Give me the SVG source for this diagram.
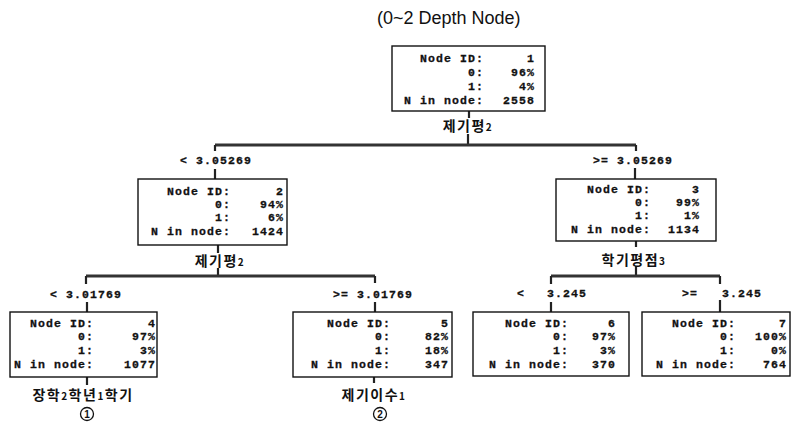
<svg xmlns="http://www.w3.org/2000/svg" width="794" height="426" viewBox="0 0 794 426">
<style>
.box{fill:#fff;stroke:#111;stroke-width:1.4}
.t{font-family:"Liberation Mono","DejaVu Sans Mono",monospace;font-weight:bold;font-size:11.5px;letter-spacing:1.1px;fill:#111;stroke:#111;stroke-width:0.3}
.e{text-anchor:end}
.k{font-family:"Noto Sans CJK KR","Noto Sans",sans-serif;font-weight:bold;font-size:14px;fill:#111;text-anchor:middle;letter-spacing:1.5px}
.k tspan.d{font-size:10px}
.c{stroke:#222;stroke-width:2.2;fill:none}
.h{stroke:#333;stroke-width:3;fill:none}
.title{font-family:"Liberation Sans",Arial,sans-serif;font-size:18px;fill:#111}
.ring{fill:none;stroke:#111;stroke-width:1.3}
.cd{font-family:"Liberation Sans",Arial,sans-serif;font-weight:bold;font-size:10px;fill:#111;text-anchor:middle}
</style>
<rect width="794" height="426" fill="#fff"/>
<text class="title" x="377" y="24">(0~2 Depth Node)</text>

<g id="connectors">
<path class="c" d="M469 111V118M468 134V145"/>
<path class="h" d="M215 145H636"/>
<path class="c" d="M215 145V151M636 145V151M215 169V179M635 168V179"/>
<path class="c" d="M218 245V253M218 268V276"/>
<path class="h" d="M86 276H375"/>
<path class="c" d="M86 276V284M375 276V283M87 302V312M375 302V312"/>
<path class="c" d="M636 241V247M636 266V276"/>
<path class="h" d="M551 276H720"/>
<path class="c" d="M551 276V284M720 276V284M551 302V312M720 300V312"/>
<path class="c" d="M87 377V385M374 377V383"/>
</g>

<g id="node1">
<rect class="box" x="392" y="46" width="153" height="65"/>
<text class="t e" x="484" y="62">Node ID:</text><text class="t e" x="535" y="62">1</text>
<text class="t e" x="484" y="76">0:</text><text class="t e" x="535" y="76">96%</text>
<text class="t e" x="484" y="90">1:</text><text class="t e" x="535" y="90">4%</text>
<text class="t e" x="484" y="104">N in node:</text><text class="t e" x="535" y="104">2558</text>
<text class="k" x="468" y="131">제기평<tspan class="d">2</tspan></text>
</g>

<g id="edge-labels-1">
<text class="t" x="180" y="164">&lt; 3.05269</text>
<text class="t" x="593" y="164">&gt;= 3.05269</text>
</g>

<g id="node2">
<rect class="box" x="138" y="179" width="149" height="66"/>
<text class="t e" x="231" y="195">Node ID:</text><text class="t e" x="284" y="195">2</text>
<text class="t e" x="231" y="208">0:</text><text class="t e" x="284" y="208">94%</text>
<text class="t e" x="231" y="221">1:</text><text class="t e" x="284" y="221">6%</text>
<text class="t e" x="231" y="235">N in node:</text><text class="t e" x="284" y="235">1424</text>
<text class="k" x="220" y="266">제기평<tspan class="d">2</tspan></text>
</g>

<g id="node3">
<rect class="box" x="556" y="179" width="160" height="62"/>
<text class="t e" x="651" y="193">Node ID:</text><text class="t e" x="700" y="193">3</text>
<text class="t e" x="651" y="206">0:</text><text class="t e" x="700" y="206">99%</text>
<text class="t e" x="651" y="219">1:</text><text class="t e" x="700" y="219">1%</text>
<text class="t e" x="651" y="233">N in node:</text><text class="t e" x="700" y="233">1134</text>
<text class="k" x="634" y="265">학기평점<tspan class="d">3</tspan></text>
</g>

<g id="edge-labels-2">
<text class="t" x="50" y="298">&lt; 3.01769</text>
<text class="t" x="333" y="298">&gt;= 3.01769</text>
<text class="t" x="517" y="297">&lt;</text><text class="t" x="547" y="297">3.245</text>
<text class="t" x="682" y="297">&gt;=</text><text class="t" x="722" y="297">3.245</text>
</g>

<g id="node4">
<rect class="box" x="10" y="312" width="147" height="65"/>
<text class="t e" x="94" y="327">Node ID:</text><text class="t e" x="156" y="327">4</text>
<text class="t e" x="94" y="340">0:</text><text class="t e" x="156" y="340">97%</text>
<text class="t e" x="94" y="354">1:</text><text class="t e" x="156" y="354">3%</text>
<text class="t e" x="94" y="368">N in node:</text><text class="t e" x="156" y="368">1077</text>
<text class="k" x="83" y="400">장학<tspan class="d">2</tspan>학년<tspan class="d">1</tspan>학기</text>
<circle class="ring" cx="87" cy="414" r="6.5"/>
<text class="cd" x="87" y="417.5">1</text>
</g>

<g id="node5">
<rect class="box" x="293" y="312" width="159" height="65"/>
<text class="t e" x="391" y="327">Node ID:</text><text class="t e" x="449" y="327">5</text>
<text class="t e" x="391" y="340">0:</text><text class="t e" x="449" y="340">82%</text>
<text class="t e" x="391" y="354">1:</text><text class="t e" x="449" y="354">18%</text>
<text class="t e" x="391" y="368">N in node:</text><text class="t e" x="449" y="368">347</text>
<text class="k" x="374" y="400">제기이수<tspan class="d">1</tspan></text>
<circle class="ring" cx="380" cy="414" r="6.5"/>
<text class="cd" x="380" y="417.5">2</text>
</g>

<g id="node6">
<rect class="box" x="473" y="312" width="156" height="64"/>
<text class="t e" x="569" y="327">Node ID:</text><text class="t e" x="616" y="327">6</text>
<text class="t e" x="569" y="340">0:</text><text class="t e" x="616" y="340">97%</text>
<text class="t e" x="569" y="354">1:</text><text class="t e" x="616" y="354">3%</text>
<text class="t e" x="569" y="368">N in node:</text><text class="t e" x="616" y="368">370</text>
</g>

<g id="node7">
<rect class="box" x="642" y="312" width="148" height="64"/>
<text class="t e" x="736" y="327">Node ID:</text><text class="t e" x="787" y="327">7</text>
<text class="t e" x="736" y="340">0:</text><text class="t e" x="787" y="340">100%</text>
<text class="t e" x="736" y="354">1:</text><text class="t e" x="787" y="354">0%</text>
<text class="t e" x="736" y="368">N in node:</text><text class="t e" x="787" y="368">764</text>
</g>
</svg>
